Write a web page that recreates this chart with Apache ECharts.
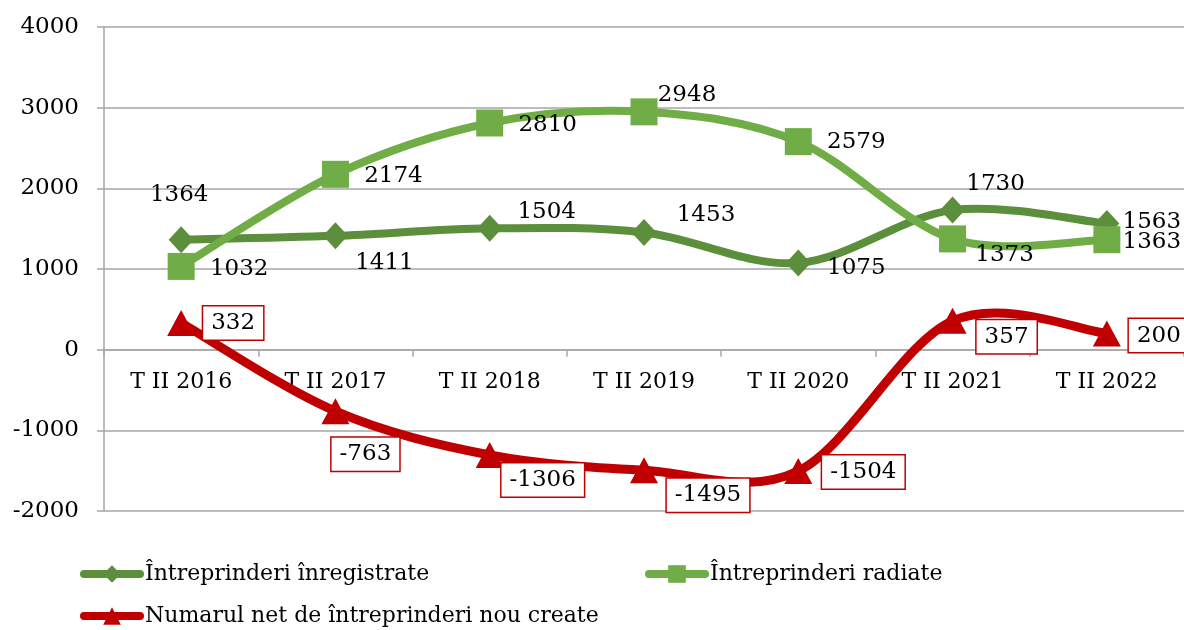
<!DOCTYPE html>
<html>
<head>
<meta charset="utf-8">
<script src="https://cdn.jsdelivr.net/npm/echarts@6/dist/echarts.min.js"></script>
<style>
  html, body { margin: 0; padding: 0; background: #fff; }
  #chart { width: 1184px; height: 630px; }
</style>
</head>
<body>
<div id="chart"></div>
<script>
// Quarterly enterprise dynamics, Q2 2016 – Q2 2022
const categories = ['T II 2016', 'T II 2017', 'T II 2018', 'T II 2019', 'T II 2020', 'T II 2021', 'T II 2022'];
const registered = [1364, 1411, 1504, 1453, 1075, 1730, 1563];
const deregistered = [1032, 2174, 2810, 2948, 2579, 1373, 1363];
const netCreated = [332, -763, -1306, -1495, -1504, 357, 200];

const seriesNames = [
  'Întreprinderi înregistrate',
  'Întreprinderi radiate',
  'Numarul net de întreprinderi nou create'
];

// label offsets (label centre relative to its point), one per point
const registeredLabelOffsets = [[-2, -45], [49, 27], [57, -16], [62, -17], [58, 5], [43, -26], [45, -2]];
const deregisteredLabelOffsets = [[58, 3], [58, 2], [58, 2], [43, -17], [58, 0], [52, 16], [45, 2]];
const netLabelOffsets = [[52, 0], [30, 43], [53, 25], [64, 25], [65, 1], [54, 16], [52, 2]];

const FONT = '"DejaVu Serif", "Liberation Serif", serif';
const DARK_GREEN = '#5b8f3b';
const LIGHT_GREEN = '#70ad47';
const RED = '#c00000';
const GRID_GREY = '#a6a6a6';

function withLabels(values, offsets, extra) {
  return values.map((v, i) => ({
    value: v,
    label: Object.assign({ offset: offsets[i] }, extra || {})
  }));
}

// Catmull-Rom style smoothing: each segment i -> i+1 becomes a cubic Bezier
// whose control points follow the neighbouring points (ends are duplicated).
function smoothCurve(values, color, width, z) {
  return {
    type: 'custom',
    name: 'curve-' + color,
    data: values,
    z: z,
    silent: true,
    renderItem: function (params, api) {
      const i = params.dataIndex;
      const n = values.length;
      if (i >= n - 1) return null;
      const pt = k => {
        const j = Math.min(Math.max(k, 0), n - 1);
        return api.coord([j, values[j]]);
      };
      const p0 = pt(i - 1), p1 = pt(i), p2 = pt(i + 1), p3 = pt(i + 2);
      const t = 1 / 6;
      return {
        type: 'bezierCurve',
        shape: {
          x1: p1[0], y1: p1[1],
          cpx1: p1[0] + (p2[0] - p0[0]) * t, cpy1: p1[1] + (p2[1] - p0[1]) * t,
          cpx2: p2[0] - (p3[0] - p1[0]) * t, cpy2: p2[1] - (p3[1] - p1[1]) * t,
          x2: p2[0], y2: p2[1]
        },
        style: { stroke: color, lineWidth: width, fill: null, lineCap: 'round' }
      };
    }
  };
}

const baseLabel = {
  show: true,
  position: 'inside',
  align: 'center',
  verticalAlign: 'middle',
  color: '#000',
  fontFamily: FONT,
  fontSize: 23
};

const legendBase = {
  orient: 'horizontal',
  padding: 0,
  itemWidth: 56,
  itemHeight: 22,
  itemGap: 5,
  lineStyle: { width: 8, opacity: 1, cap: 'round' },
  textStyle: { fontFamily: FONT, fontSize: 22, color: '#000' },
  selectedMode: false
};

const chart = echarts.init(document.getElementById('chart'), null, { renderer: 'canvas' });

const GRID_TOP = 27, GRID_H = 484;
const Y_MIN = -2000, Y_MAX = 4000;
// distance of the zero line above the grid bottom, used to seat the category labels under it
const zeroLift = GRID_H * (0 - Y_MIN) / (Y_MAX - Y_MIN);

chart.setOption({
  animation: false,
  backgroundColor: '#fff',
  grid: { left: 104, top: GRID_TOP, width: 1085, height: GRID_H, containLabel: false },
  legend: [
    Object.assign({}, legendBase, { left: 80, top: 563, data: [seriesNames[0]] }),
    Object.assign({}, legendBase, { left: 645, top: 563, data: [seriesNames[1]] }),
    Object.assign({}, legendBase, { left: 80, top: 605, data: [seriesNames[2]] })
  ],
  xAxis: [
    {
      type: 'category',
      data: categories,
      boundaryGap: true,
      axisLine: { onZero: true, lineStyle: { color: GRID_GREY, width: 1.5 } },
      axisTick: { show: true, length: 7, alignWithLabel: false, lineStyle: { color: GRID_GREY, width: 1.5 } },
      axisLabel: { show: false },
      splitLine: { show: false }
    },
    {
      type: 'category',
      data: categories,
      position: 'bottom',
      offset: -zeroLift,
      boundaryGap: true,
      axisLine: { show: false },
      axisTick: { show: false },
      axisLabel: { color: '#000', fontFamily: FONT, fontSize: 22, margin: 22, interval: 0 },
      splitLine: { show: false }
    }
  ],
  yAxis: {
    type: 'value',
    min: Y_MIN,
    max: Y_MAX,
    interval: 1000,
    axisLine: { show: true, lineStyle: { color: GRID_GREY, width: 1.5 } },
    axisTick: { show: true, length: 7, lineStyle: { color: GRID_GREY, width: 1.5 } },
    axisLabel: { color: '#000', fontFamily: FONT, fontSize: 23, margin: 25, formatter: v => String(v) },
    splitLine: { show: true, lineStyle: { color: GRID_GREY, width: 1.5 } }
  },
  series: [
    smoothCurve(registered, DARK_GREEN, 8, 2),
    smoothCurve(deregistered, LIGHT_GREEN, 8, 3),
    smoothCurve(netCreated, RED, 9, 4),
    {
      name: seriesNames[0],
      type: 'line',
      data: withLabels(registered, registeredLabelOffsets),
      symbol: 'diamond',
      symbolSize: [25, 27],
      lineStyle: { color: DARK_GREEN, width: 8, opacity: 0 },
      itemStyle: { color: DARK_GREEN },
      label: baseLabel,
      z: 5
    },
    {
      name: seriesNames[1],
      type: 'line',
      data: withLabels(deregistered, deregisteredLabelOffsets),
      symbol: 'rect',
      symbolSize: 27,
      lineStyle: { color: LIGHT_GREEN, width: 8, opacity: 0 },
      itemStyle: { color: LIGHT_GREEN },
      label: baseLabel,
      z: 6
    },
    {
      name: seriesNames[2],
      type: 'line',
      data: withLabels(netCreated, netLabelOffsets),
      symbol: 'triangle',
      symbolSize: [28, 26],
      lineStyle: { color: RED, width: 9, opacity: 0 },
      itemStyle: { color: RED },
      label: Object.assign({}, baseLabel, {
        backgroundColor: '#fff',
        borderColor: RED,
        borderWidth: 1.5,
        padding: [6, 8, 4, 8]
      }),
      z: 7
    }
  ]
});
</script>
</body>
</html>
